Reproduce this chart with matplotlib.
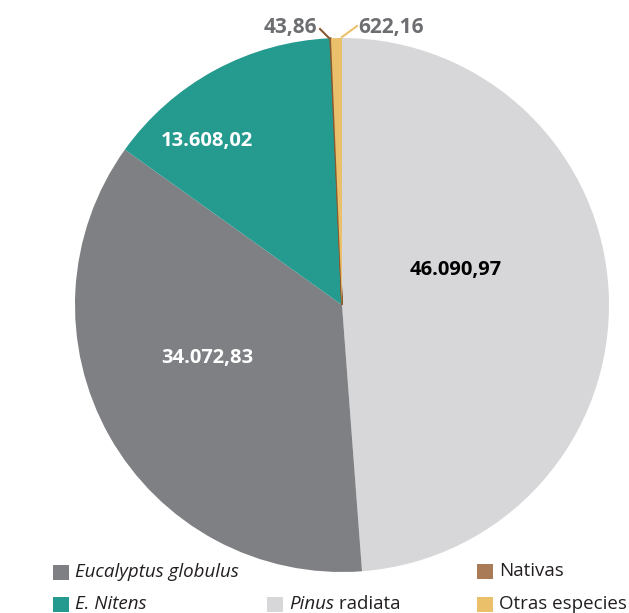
import matplotlib.pyplot as plt
from matplotlib.patches import Rectangle

# Superficie plantada por especie
species = ["Pinus radiata", "Eucalyptus globulus", "E. Nitens", "Nativas", "Otras especies"]
values = [46090.97, 34072.83, 13608.02, 43.86, 622.16]
value_labels = ["46.090,97", "34.072,83", "13.608,02", "43,86", "622,16"]
colors = ["#D7D7D9", "#7E8083", "#259A8F", "#8A5A30", "#EBC06B"]
legend_colors = ["#D7D7D9", "#7E8083", "#259A8F", "#A97B57", "#EBC06B"]

W, H = 629, 613
FONT = "Open Sans"

fig = plt.figure(figsize=(W / 100, H / 100), dpi=100)
ax = fig.add_axes([0, 0, 1, 1])

cx, cy, r = 342, H - 305, 267
wedges, _ = ax.pie(values, colors=colors, startangle=90, counterclock=False,
                   center=(cx, cy), radius=r, frame=True)
ax.set_xlim(0, W)
ax.set_ylim(0, H)
ax.set_aspect("equal")
ax.axis("off")
# the tiny Nativas slice gets a stroke so it stays visible
wedges[3].set_edgecolor(colors[3])
wedges[3].set_linewidth(1.2)

# inner labels
inner = [(456, 270, "black"), (207, 358, "white"), (207, 141, "white")]
for (x, y, c), lab in zip(inner, value_labels[:3]):
    ax.text(x, H - y, lab, ha="center", va="center", fontsize=14.5,
            fontweight="bold", color=c, family=FONT)

# outer labels with leader lines
ax.plot([329, 320], [H - 38, H - 29], color=colors[3], lw=1.5)
ax.text(317, H - 27, value_labels[3], ha="right", va="center", fontsize=15,
        fontweight="bold", color="#6D6E71", family=FONT)
ax.plot([342, 357], [H - 37, H - 26], color=colors[4], lw=1.5)
ax.text(358, H - 27, value_labels[4], ha="left", va="center", fontsize=15,
        fontweight="bold", color="#6D6E71", family=FONT)

# legend
entries = [
    (53, 572, 1, [("Eucalyptus globulus", "italic")]),
    (477, 571, 3, [("Nativas", "normal")]),
    (53, 604, 2, [("E. Nitens", "italic")]),
    (267, 604, 0, [("Pinus", "italic"), (" radiata", "normal")]),
    (477, 604, 4, [("Otras especies", "normal")]),
]
sq_w, sq_h = 16, 15
for x, y, idx, parts in entries:
    ax.add_patch(Rectangle((x, H - y - sq_h / 2), sq_w, sq_h, color=legend_colors[idx], lw=0))
    tx = x + sq_w + 6
    for txt, style in parts:
        t = ax.text(tx, H - y, txt, ha="left", va="center", fontsize=13.5,
                    style=style, color="#231F20", family=FONT)
        fig.canvas.draw()
        bb = t.get_window_extent()
        tx = ax.transData.inverted().transform((bb.x1, bb.y0))[0]

fig.savefig("out.png", dpi=100, facecolor="white")
